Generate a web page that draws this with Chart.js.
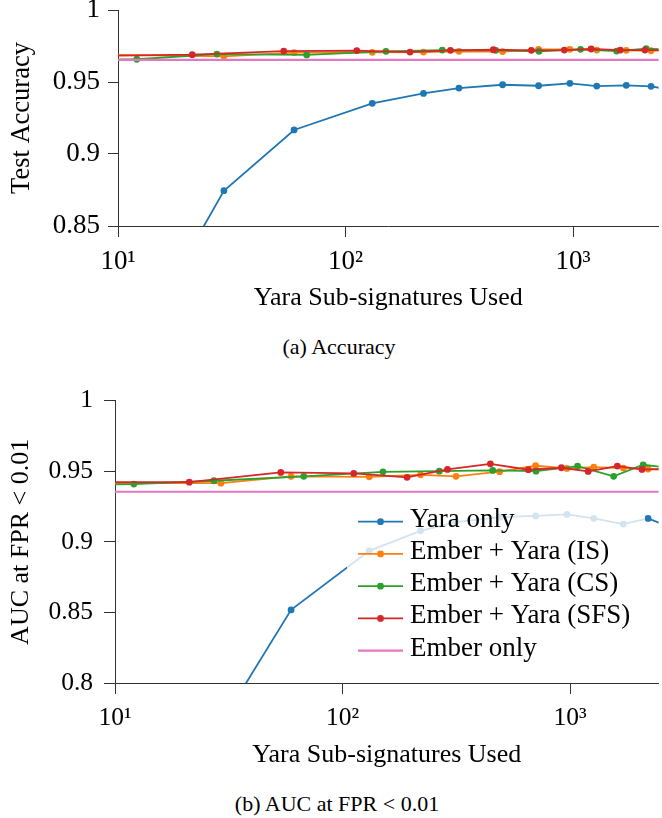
<!DOCTYPE html>
<html><head><meta charset="utf-8">
<script src="https://cdn.jsdelivr.net/npm/chart.js@4.4.1/dist/chart.umd.min.js"></script>
<style>
html,body{margin:0;padding:0;background:#fff;}
body{width:662px;height:818px;position:relative;overflow:hidden;font-family:'Liberation Serif',serif;}
canvas{position:absolute;left:0;}
#c1{top:0}
#c2{top:380px}
.cap{position:absolute;font-size:22px;color:#000;white-space:nowrap;transform:translate(-50%,-50%);line-height:1;}
</style></head>
<body>
<canvas id="c1" width="662" height="320"></canvas>
<canvas id="c2" width="662" height="397"></canvas>
<div class="cap" style="left:339px;top:347px">(a) Accuracy</div>
<div class="cap" style="left:337px;top:804px">(b) AUC at FPR &lt; 0.01</div>
<script>
// ---------- data ----------
const seriesNames = ['Yara only', 'Ember + Yara (IS)', 'Ember + Yara (CS)', 'Ember + Yara (SFS)', 'Ember only'];
const seriesColors = ['#1f77b4', '#ff7f0e', '#2ca02c', '#d62728', '#e377c2'];

// number of Yara sub-signatures used (x values)
const xYaraIS = [7, 29.2, 59.4, 131, 220, 315, 490, 705, 968, 1270, 1712, 2200, 2700];
const xCS     = [5, 12.1, 27.2, 67.5, 150.5, 266, 457, 708, 1078, 1553, 2094, 2700];
const xSFS    = [9, 21.2, 53.5, 112, 192, 289, 446, 655, 915, 1200, 1612, 2068, 2700];
const xEmber  = [5, 5000];

// (a) test accuracy
const accYara  = [0.702, 0.8745, 0.9167, 0.9352, 0.9421, 0.9458, 0.9481, 0.9474, 0.9491, 0.9472, 0.9477, 0.9470, 0.9445];
const accIS    = [0.9691, 0.9678, 0.9704, 0.9706, 0.9708, 0.9713, 0.9711, 0.9727, 0.9727, 0.9722, 0.9720, 0.9717, 0.9718];
const accCS    = [0.9652, 0.9658, 0.9694, 0.9688, 0.9713, 0.9722, 0.9720, 0.9713, 0.9727, 0.9715, 0.9731, 0.9725];
const accSFS   = [0.9682, 0.9690, 0.9715, 0.9718, 0.9708, 0.9720, 0.9724, 0.9720, 0.9722, 0.9729, 0.9722, 0.9722, 0.9722];
const accEmber = [0.9653, 0.9653];

// (b) AUC at FPR < 0.01
const aucYara  = [0.700, 0.771, 0.8518, 0.8936, 0.9078, 0.9140, 0.9175, 0.9184, 0.9194, 0.9166, 0.9126, 0.9166, 0.9109];
const aucIS    = [0.9416, 0.9416, 0.9464, 0.9461, 0.9475, 0.9464, 0.9497, 0.9539, 0.9520, 0.9530, 0.9523, 0.9516, 0.9516];
const aucCS    = [0.9400, 0.9409, 0.9433, 0.9464, 0.9496, 0.9501, 0.9506, 0.9501, 0.9537, 0.9464, 0.9546, 0.9525];
const aucSFS   = [0.9423, 0.9423, 0.9492, 0.9485, 0.9457, 0.9513, 0.9553, 0.9511, 0.9525, 0.9499, 0.9537, 0.9513, 0.9513];
const aucEmber = [0.9355, 0.9355];

// tick labels
const xTickValues = [10, 100, 1000];
const xTickLabels = ['10\u00B9', '10\u00B2', '10\u00B3'];
const accTickValues = [0.85, 0.9, 0.95, 1];
const accTickLabels = ['0.85', '0.9', '0.95', '1'];
const aucTickValues = [0.8, 0.85, 0.9, 0.95, 1];
const aucTickLabels = ['0.8', '0.85', '0.9', '0.95', '1'];

// ---------- helpers ----------
const FONT = "'Liberation Serif', 'Times New Roman', serif";
function pts(xs, ys) { return ys.map((y, i) => ({ x: xs[i], y })); }

function makeDatasets(ysList) {
  const xsList = [xYaraIS, xYaraIS, xCS, xSFS, xEmber];
  return seriesNames.map((name, i) => ({
    label: name,
    data: pts(xsList[i], ysList[i]),
    borderColor: seriesColors[i],
    backgroundColor: seriesColors[i],
    pointBackgroundColor: seriesColors[i],
    pointBorderWidth: 0,
    pointRadius: i === 4 ? 0 : 3.4,
    pointHoverRadius: 0,
    borderWidth: i === 4 ? 2.2 : 1.8,
    tension: 0,
    order: 5 - i,
    clip: 0
  }));
}

const boxLegend = {
  id: 'boxLegend',
  afterDatasetsDraw(chart, args, o) {
    if (!o || !o.show) return;
    const { ctx, chartArea } = chart;
    const x0 = chartArea.left + o.dx, y0 = chartArea.top + o.dy;
    ctx.save();
    ctx.fillStyle = 'rgba(255,255,255,0.8)';
    ctx.beginPath();
    if (ctx.roundRect) ctx.roundRect(x0, y0, o.w, o.h, 4); else ctx.rect(x0, y0, o.w, o.h);
    ctx.fill();
    chart.data.datasets.forEach((ds, i) => {
      const cy = y0 + o.firstRow + i * o.rowH;
      ctx.strokeStyle = ds.borderColor;
      ctx.lineWidth = ds.borderWidth;
      ctx.beginPath();
      ctx.moveTo(x0 + o.line0, cy);
      ctx.lineTo(x0 + o.line1, cy);
      ctx.stroke();
      if (ds.pointRadius > 0) {
        ctx.fillStyle = ds.pointBackgroundColor;
        ctx.beginPath();
        ctx.arc(x0 + (o.line0 + o.line1) / 2, cy, ds.pointRadius, 0, Math.PI * 2);
        ctx.fill();
      }
      ctx.fillStyle = '#000';
      ctx.font = o.fontSize + 'px ' + FONT;
      ctx.textBaseline = 'alphabetic';
      ctx.textAlign = 'left';
      ctx.fillText(ds.label, x0 + o.textX, cy + o.baseOff);
    });
    ctx.restore();
  }
};

function makeChart(id, cfg) {
  return new Chart(document.getElementById(id), {
    type: 'line',
    data: { datasets: makeDatasets(cfg.series) },
    options: {
      animation: false, responsive: false, devicePixelRatio: 1, events: [],
      layout: { padding: { top: cfg.padTop, left: 0, right: 0, bottom: 0 } },
      plugins: {
        legend: { display: false }, tooltip: { enabled: false },
        boxLegend: cfg.legend
      },
      scales: {
        x: {
          type: 'logarithmic', position: 'bottom', min: 10, max: cfg.xMax,
          afterBuildTicks: s => { s.ticks = xTickValues.map(v => ({ value: v, major: true })); },
          afterFit: s => { s.height = 94; s.paddingLeft = 0; s.paddingRight = 0; },
          ticks: {
            autoSkip: false, maxRotation: 0, minRotation: 0, padding: 9, color: '#000',
            font: { family: FONT, size: cfg.tickSize, lineHeight: 1.2 },
            callback: (v, i) => xTickLabels[i]
          },
          grid: { display: true, drawOnChartArea: false, drawTicks: true, tickLength: 11, color: '#333', lineWidth: 1 },
          border: { display: true, color: '#333', width: 1 },
          title: { display: true, text: 'Yara Sub-signatures Used', color: '#000',
                   font: { family: FONT, size: 26, lineHeight: 1.2 }, padding: { top: 0, bottom: 6 } }
        },
        y: {
          type: 'linear', position: 'left', min: cfg.yMin, max: 1,
          afterBuildTicks: s => { s.ticks = cfg.yTicks.map(v => ({ value: v })); },
          afterFit: s => { s.width = cfg.yWidth; s.paddingTop = 0; s.paddingBottom = 0; },
          ticks: {
            autoSkip: false, padding: cfg.yPad, color: '#000',
            font: { family: FONT, size: cfg.tickSize, lineHeight: 1.2 },
            callback: (v, i) => cfg.yLabels[i]
          },
          grid: { display: true, drawOnChartArea: false, drawTicks: true, tickLength: cfg.yTick, color: '#333', lineWidth: 1 },
          border: { display: true, color: '#333', width: 1 },
          title: { display: true, text: cfg.yTitle, color: '#000',
                   font: { family: FONT, size: cfg.titleSize, lineHeight: 1.2 }, padding: { top: 6, bottom: 0 } }
        }
      }
    },
    plugins: [boxLegend]
  });
}

makeChart('c1', {
  series: [accYara, accIS, accCS, accSFS, accEmber],
  padTop: 10, xMax: 2375, yMin: 0.85, yTicks: accTickValues, yLabels: accTickLabels,
  yWidth: 118, yPad: 8, yTick: 10, tickSize: 27, titleSize: 26.5, yTitle: 'Test Accuracy',
  legend: { show: false }
});

makeChart('c2', {
  series: [aucYara, aucIS, aucCS, aucSFS, aucEmber],
  padTop: 20.7, xMax: 2447, yMin: 0.8, yTicks: aucTickValues, yLabels: aucTickLabels,
  yWidth: 115, yPad: 11, yTick: 11, tickSize: 25.5, titleSize: 26, yTitle: 'AUC at FPR < 0.01',
  legend: { show: true, dx: 232, dy: 99.3, w: 298, h: 174, firstRow: 21.7, rowH: 32.25,
            line0: 11, line1: 56, textX: 63, baseOff: 5, fontSize: 27 }
});
</script>
</body></html>
